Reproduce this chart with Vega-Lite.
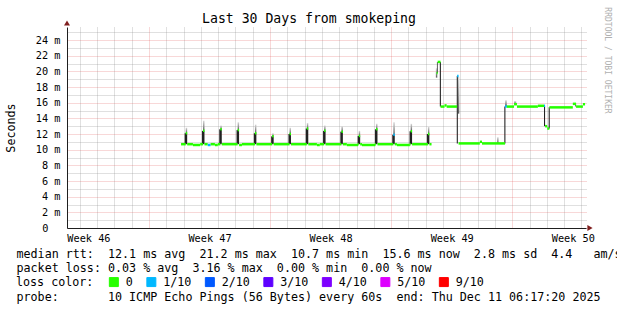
{
  "$schema": "https://vega.github.io/schema/vega-lite/v6.json",
  "autosize": {"type": "none"},
  "padding": {"left": 67, "top": 27, "right": 31, "bottom": 82},
  "width": 519,
  "height": 201,
  "background": "#ffffff",
  "datasets": {
    "median": [
      {"t0":"2025-11-17T20:30","t1":"2025-11-18T03:00","v":10.7,"loss":"0"},
      {"t0":"2025-11-18T03:00","t1":"2025-11-18T05:00","v":12.1,"loss":"0"},
      {"t0":"2025-11-18T05:00","t1":"2025-11-18T13:00","v":10.7,"loss":"0"},
      {"t0":"2025-11-18T13:00","t1":"2025-11-18T23:00","v":10.6,"loss":"0"},
      {"t0":"2025-11-18T23:00","t1":"2025-11-19T03:00","v":10.7,"loss":"0"},
      {"t0":"2025-11-19T03:00","t1":"2025-11-19T05:00","v":12.4,"loss":"0"},
      {"t0":"2025-11-19T05:00","t1":"2025-11-19T09:30","v":10.7,"loss":"0"},
      {"t0":"2025-11-19T09:30","t1":"2025-11-19T13:30","v":10.6,"loss":"1/10"},
      {"t0":"2025-11-19T13:30","t1":"2025-11-19T19:30","v":10.7,"loss":"0"},
      {"t0":"2025-11-19T19:30","t1":"2025-11-19T23:30","v":10.6,"loss":"0"},
      {"t0":"2025-11-19T23:30","t1":"2025-11-20T03:00","v":10.7,"loss":"0"},
      {"t0":"2025-11-20T03:00","t1":"2025-11-20T05:00","v":12.6,"loss":"0"},
      {"t0":"2025-11-20T05:00","t1":"2025-11-21T03:00","v":10.7,"loss":"0"},
      {"t0":"2025-11-21T03:00","t1":"2025-11-21T05:00","v":12.5,"loss":"0"},
      {"t0":"2025-11-21T05:00","t1":"2025-11-21T09:00","v":10.6,"loss":"0"},
      {"t0":"2025-11-21T09:00","t1":"2025-11-22T03:00","v":10.7,"loss":"0"},
      {"t0":"2025-11-22T03:00","t1":"2025-11-22T05:00","v":12.1,"loss":"0"},
      {"t0":"2025-11-22T05:00","t1":"2025-11-23T03:00","v":10.7,"loss":"0"},
      {"t0":"2025-11-23T03:00","t1":"2025-11-23T05:00","v":11.7,"loss":"0"},
      {"t0":"2025-11-23T05:00","t1":"2025-11-24T03:00","v":10.7,"loss":"0"},
      {"t0":"2025-11-24T03:00","t1":"2025-11-24T05:00","v":12.0,"loss":"0"},
      {"t0":"2025-11-24T05:00","t1":"2025-11-25T03:00","v":10.7,"loss":"0"},
      {"t0":"2025-11-25T03:00","t1":"2025-11-25T05:00","v":12.7,"loss":"0"},
      {"t0":"2025-11-25T05:00","t1":"2025-11-25T17:00","v":10.7,"loss":"0"},
      {"t0":"2025-11-25T17:00","t1":"2025-11-25T21:00","v":10.6,"loss":"0"},
      {"t0":"2025-11-25T21:00","t1":"2025-11-26T03:00","v":10.7,"loss":"0"},
      {"t0":"2025-11-26T03:00","t1":"2025-11-26T05:00","v":12.4,"loss":"0"},
      {"t0":"2025-11-26T05:00","t1":"2025-11-27T03:00","v":10.7,"loss":"0"},
      {"t0":"2025-11-27T03:00","t1":"2025-11-27T05:00","v":12.3,"loss":"0"},
      {"t0":"2025-11-27T05:00","t1":"2025-11-27T10:30","v":10.7,"loss":"0"},
      {"t0":"2025-11-27T10:30","t1":"2025-11-28T02:00","v":10.6,"loss":"0"},
      {"t0":"2025-11-28T02:00","t1":"2025-11-28T03:00","v":10.7,"loss":"0"},
      {"t0":"2025-11-28T03:00","t1":"2025-11-28T05:00","v":11.75,"loss":"0"},
      {"t0":"2025-11-28T05:00","t1":"2025-11-28T07:30","v":10.7,"loss":"0"},
      {"t0":"2025-11-28T07:30","t1":"2025-11-29T02:00","v":10.6,"loss":"0"},
      {"t0":"2025-11-29T02:00","t1":"2025-11-29T03:00","v":10.7,"loss":"0"},
      {"t0":"2025-11-29T03:00","t1":"2025-11-29T05:00","v":12.6,"loss":"0"},
      {"t0":"2025-11-29T05:00","t1":"2025-11-30T03:00","v":10.7,"loss":"0"},
      {"t0":"2025-11-30T03:00","t1":"2025-11-30T05:00","v":11.9,"loss":"1/10"},
      {"t0":"2025-11-30T05:00","t1":"2025-11-30T08:00","v":10.7,"loss":"0"},
      {"t0":"2025-11-30T08:00","t1":"2025-12-01T02:00","v":10.6,"loss":"0"},
      {"t0":"2025-12-01T02:00","t1":"2025-12-01T03:00","v":10.7,"loss":"0"},
      {"t0":"2025-12-01T03:00","t1":"2025-12-01T05:00","v":12.35,"loss":"0"},
      {"t0":"2025-12-01T05:00","t1":"2025-12-02T03:00","v":10.7,"loss":"0"},
      {"t0":"2025-12-02T03:00","t1":"2025-12-02T05:00","v":12.0,"loss":"0"},
      {"t0":"2025-12-02T05:00","t1":"2025-12-02T08:00","v":10.7,"loss":"0"},
      {"t0":"2025-12-02T15:00","t1":"2025-12-02T16:30","v":19.8,"loss":"0"},
      {"t0":"2025-12-02T16:30","t1":"2025-12-02T20:30","v":21.2,"loss":"0"},
      {"t0":"2025-12-02T20:30","t1":"2025-12-03T02:00","v":15.5,"loss":"0"},
      {"t0":"2025-12-03T02:00","t1":"2025-12-03T05:00","v":15.65,"loss":"0"},
      {"t0":"2025-12-03T05:00","t1":"2025-12-03T19:30","v":15.5,"loss":"0"},
      {"t0":"2025-12-03T19:30","t1":"2025-12-03T21:30","v":19.4,"loss":"1/10"},
      {"t0":"2025-12-03T21:30","t1":"2025-12-05T03:00","v":10.8,"loss":"0"},
      {"t0":"2025-12-05T03:00","t1":"2025-12-05T06:00","v":11.0,"loss":"0"},
      {"t0":"2025-12-05T06:00","t1":"2025-12-06T14:00","v":10.8,"loss":"0"},
      {"t0":"2025-12-06T14:00","t1":"2025-12-06T16:30","v":15.5,"loss":"1/10"},
      {"t0":"2025-12-06T16:30","t1":"2025-12-07T02:30","v":15.5,"loss":"0"},
      {"t0":"2025-12-07T02:30","t1":"2025-12-07T06:30","v":15.8,"loss":"0"},
      {"t0":"2025-12-07T06:30","t1":"2025-12-08T11:30","v":15.5,"loss":"0"},
      {"t0":"2025-12-08T11:30","t1":"2025-12-08T20:00","v":15.6,"loss":"0"},
      {"t0":"2025-12-08T20:00","t1":"2025-12-08T21:30","v":15.6,"loss":"1/10"},
      {"t0":"2025-12-08T21:30","t1":"2025-12-09T00:30","v":13.0,"loss":"0"},
      {"t0":"2025-12-09T00:30","t1":"2025-12-09T03:30","v":12.7,"loss":"0"},
      {"t0":"2025-12-09T03:30","t1":"2025-12-10T12:00","v":15.4,"loss":"0"},
      {"t0":"2025-12-10T12:00","t1":"2025-12-10T16:30","v":15.85,"loss":"0"},
      {"t0":"2025-12-10T16:30","t1":"2025-12-11T02:00","v":15.5,"loss":"0"},
      {"t0":"2025-12-11T02:00","t1":"2025-12-11T05:00","v":15.8,"loss":"0"}
    ],
    "smokeDark": [
      {"t0":"2025-11-18T01:30","t1":"2025-11-18T05:00","lo":10.7,"hi":12.1},
      {"t0":"2025-11-19T01:30","t1":"2025-11-19T05:00","lo":10.7,"hi":12.4},
      {"t0":"2025-11-20T01:30","t1":"2025-11-20T05:00","lo":10.7,"hi":12.6},
      {"t0":"2025-11-21T01:30","t1":"2025-11-21T05:00","lo":10.7,"hi":12.5},
      {"t0":"2025-11-22T01:30","t1":"2025-11-22T05:00","lo":10.7,"hi":12.1},
      {"t0":"2025-11-23T01:30","t1":"2025-11-23T05:00","lo":10.7,"hi":11.7},
      {"t0":"2025-11-24T01:30","t1":"2025-11-24T05:00","lo":10.7,"hi":12.0},
      {"t0":"2025-11-25T01:30","t1":"2025-11-25T05:00","lo":10.7,"hi":12.7},
      {"t0":"2025-11-26T01:30","t1":"2025-11-26T05:00","lo":10.7,"hi":12.4},
      {"t0":"2025-11-27T01:30","t1":"2025-11-27T05:00","lo":10.7,"hi":12.3},
      {"t0":"2025-11-28T01:30","t1":"2025-11-28T05:00","lo":10.7,"hi":11.75},
      {"t0":"2025-11-29T01:30","t1":"2025-11-29T05:00","lo":10.7,"hi":12.6},
      {"t0":"2025-11-30T01:30","t1":"2025-11-30T05:00","lo":10.7,"hi":11.9},
      {"t0":"2025-12-01T01:30","t1":"2025-12-01T05:00","lo":10.7,"hi":12.35},
      {"t0":"2025-12-02T01:30","t1":"2025-12-02T05:00","lo":10.7,"hi":12.0},
      {"t0":"2025-12-02T15:30","t1":"2025-12-02T16:30","lo":19.8,"hi":21.2},
      {"t0":"2025-12-02T19:30","t1":"2025-12-02T21:00","lo":15.5,"hi":21.2},
      {"t0":"2025-12-03T19:00","t1":"2025-12-03T20:30","lo":10.8,"hi":19.4},
      {"t0":"2025-12-06T13:00","t1":"2025-12-06T14:30","lo":10.8,"hi":15.5},
      {"t0":"2025-12-08T20:00","t1":"2025-12-08T21:30","lo":13.0,"hi":15.6},
      {"t0":"2025-12-09T02:30","t1":"2025-12-09T04:00","lo":12.7,"hi":15.4},
      {"t0":"2025-12-10T15:30","t1":"2025-12-10T16:30","lo":15.5,"hi":15.9}
    ],
    "smokeGray": [
      {"t0":"2025-11-18T03:00","t1":"2025-11-18T05:00","lo":12.1,"hi":12.8},
      {"t0":"2025-11-19T03:00","t1":"2025-11-19T05:00","lo":12.4,"hi":13.7},
      {"t0":"2025-11-20T03:00","t1":"2025-11-20T05:00","lo":12.6,"hi":13.1},
      {"t0":"2025-11-21T03:00","t1":"2025-11-21T05:00","lo":12.5,"hi":13.5},
      {"t0":"2025-11-22T03:00","t1":"2025-11-22T05:00","lo":12.1,"hi":13.2},
      {"t0":"2025-11-23T03:00","t1":"2025-11-23T05:00","lo":11.7,"hi":12.1},
      {"t0":"2025-11-24T03:00","t1":"2025-11-24T05:00","lo":12.0,"hi":12.8},
      {"t0":"2025-11-25T03:00","t1":"2025-11-25T05:00","lo":12.7,"hi":13.4},
      {"t0":"2025-11-26T03:00","t1":"2025-11-26T05:00","lo":12.4,"hi":13.1},
      {"t0":"2025-11-27T03:00","t1":"2025-11-27T05:00","lo":12.3,"hi":13.0},
      {"t0":"2025-11-28T03:00","t1":"2025-11-28T05:00","lo":11.75,"hi":12.4},
      {"t0":"2025-11-29T03:00","t1":"2025-11-29T05:00","lo":12.6,"hi":13.3},
      {"t0":"2025-11-30T03:00","t1":"2025-11-30T05:00","lo":11.9,"hi":13.5},
      {"t0":"2025-12-01T03:00","t1":"2025-12-01T05:00","lo":12.35,"hi":13.3},
      {"t0":"2025-12-02T03:00","t1":"2025-12-02T05:00","lo":12.0,"hi":12.9},
      {"t0":"2025-12-02T14:00","t1":"2025-12-02T16:00","lo":19.2,"hi":20.4},
      {"t0":"2025-12-03T20:30","t1":"2025-12-03T22:30","lo":14.6,"hi":19.3},
      {"t0":"2025-12-06T14:00","t1":"2025-12-06T16:30","lo":15.5,"hi":16.3},
      {"t0":"2025-12-07T02:30","t1":"2025-12-07T05:30","lo":15.8,"hi":16.2},
      {"t0":"2025-12-06T03:00","t1":"2025-12-06T05:00","lo":10.8,"hi":11.6}
    ],
    "arrowTop": [{"t":"2025-11-11T06:17:20","v":25.66}],
    "arrowRight": [{"t":"2025-12-11T06:17:20","v":0}]
  },
  "layer": [
    {
      "data": {"name": "smokeGray"},
      "mark": {"type": "rect", "color": {"gradient": "linear", "x1": 0, "y1": 1, "x2": 0, "y2": 0, "stops": [{"offset": 0, "color": "#5a5a5a"}, {"offset": 1, "color": "#d8d8d8"}]}},
      "encoding": {
        "x": {"field": "t0", "type": "temporal",
          "scale": {"domain": [{"year":2025,"month":11,"date":11,"hours":6,"minutes":17,"seconds":20},{"year":2025,"month":12,"date":11,"hours":6,"minutes":17,"seconds":20}], "nice": false},
          "axis": {"orient": "bottom", "title": null, "labels": false, "ticks": false, "domain": false, "grid": true, "gridColor": "#8f8f8f", "gridOpacity": 0.55, "gridDash": [1, 1], "gridWidth": 1,
            "values": [
              {"year":2025,"month":11,"date":12},{"year":2025,"month":11,"date":13},{"year":2025,"month":11,"date":14},{"year":2025,"month":11,"date":15},
              {"year":2025,"month":11,"date":17},{"year":2025,"month":11,"date":18},{"year":2025,"month":11,"date":19},{"year":2025,"month":11,"date":20},{"year":2025,"month":11,"date":21},{"year":2025,"month":11,"date":22},
              {"year":2025,"month":11,"date":24},{"year":2025,"month":11,"date":25},{"year":2025,"month":11,"date":26},{"year":2025,"month":11,"date":27},{"year":2025,"month":11,"date":28},{"year":2025,"month":11,"date":29},
              {"year":2025,"month":12,"date":1},{"year":2025,"month":12,"date":2},{"year":2025,"month":12,"date":3},{"year":2025,"month":12,"date":4},{"year":2025,"month":12,"date":5},{"year":2025,"month":12,"date":6},
              {"year":2025,"month":12,"date":8},{"year":2025,"month":12,"date":9},{"year":2025,"month":12,"date":10},{"year":2025,"month":12,"date":11}
            ]}},
        "x2": {"field": "t1"},
        "y": {"field": "lo", "type": "quantitative",
          "scale": {"domain": [0, 25.66], "nice": false},
          "axis": {"orient": "left", "title": null, "labels": false, "ticks": false, "domain": false, "grid": true, "gridColor": "#8f8f8f", "gridOpacity": 0.55, "gridDash": [1, 1], "gridWidth": 1,
            "values": [1, 3, 5, 7, 9, 11, 13, 15, 17, 19, 21, 23, 25]}},
        "y2": {"field": "hi"}
      }
    },
    {
      "data": {"name": "smokeDark"},
      "mark": {"type": "rect", "color": "#222222"},
      "encoding": {
        "x": {"field": "t0", "type": "temporal",
          "scale": {"domain": [{"year":2025,"month":11,"date":11,"hours":6,"minutes":17,"seconds":20},{"year":2025,"month":12,"date":11,"hours":6,"minutes":17,"seconds":20}], "nice": false},
          "axis": {"orient": "bottom", "title": null, "labels": false, "ticks": false, "domain": true, "domainColor": "#1f1f1f", "domainWidth": 1, "grid": true, "gridColor": "#de4f4f", "gridOpacity": 0.45, "gridDash": [1, 1], "gridWidth": 1,
            "values": [{"year":2025,"month":11,"date":16},{"year":2025,"month":11,"date":23},{"year":2025,"month":11,"date":30},{"year":2025,"month":12,"date":7}]}},
        "x2": {"field": "t1"},
        "y": {"field": "lo", "type": "quantitative",
          "scale": {"domain": [0, 25.66], "nice": false},
          "axis": {"orient": "left", "title": "Seconds", "titleX": -57, "titleY": 100.5, "titleAngle": 270, "titleAlign": "center", "titleBaseline": "middle", "titleFontSize": 11.7,
            "labels": true, "labelFontSize": 10.24,
            "labelPadding": {"condition": {"test": "datum.value == 0", "value": 19}, "value": 7},
            "labelAlign": "right", "labelBaseline": "middle",
            "labelExpr": "datum.value == 0 ? '0' : datum.value + ' m'",
            "ticks": false, "domain": true, "domainColor": "#1f1f1f", "domainWidth": 1, "grid": true, "gridColor": "#de4f4f", "gridOpacity": 0.45, "gridDash": [1, 1], "gridWidth": 1,
            "values": [0, 2, 4, 6, 8, 10, 12, 14, 16, 18, 20, 22, 24]}},
        "y2": {"field": "hi"}
      }
    },
    {
      "data": {"name": "median"},
      "mark": {"type": "rule", "strokeWidth": 2.5, "strokeCap": "butt"},
      "encoding": {
        "x": {"field": "t0", "type": "temporal",
          "scale": {"domain": [{"year":2025,"month":11,"date":11,"hours":6,"minutes":17,"seconds":20},{"year":2025,"month":12,"date":11,"hours":6,"minutes":17,"seconds":20}], "nice": false},
          "axis": {"orient": "bottom", "grid": false, "ticks": false, "domain": false,
            "labelFontSize": 10.24, "labelPadding": 5, "labelBaseline": "top", "labelAlign": "center", "labelFlush": false, "labelOverlap": false, "labelBound": false,
            "labelExpr": "'Week ' + timeFormat(datum.value, '%V')",
            "values": [{"year":2025,"month":11,"date":12,"hours":12},{"year":2025,"month":11,"date":19,"hours":12},{"year":2025,"month":11,"date":26,"hours":12},{"year":2025,"month":12,"date":3,"hours":12},{"year":2025,"month":12,"date":10,"hours":12}],
            "title": [
              "median rtt:\u00a0 12.1 ms avg\u00a0 21.2 ms max\u00a0 10.7 ms min\u00a0 15.6 ms now\u00a0 2.8 ms sd\u00a0 4.4\u00a0\u00a0 am/s",
              "packet loss: 0.03 % avg\u00a0 3.16 % max\u00a0 0.00 % min\u00a0 0.00 % now"
            ],
            "titleX": -51, "titleY": 29.5, "titleAlign": "left", "titleAnchor": "start", "titleBaseline": "alphabetic", "titleLineHeight": 14.3, "titleFontSize": 11.7, "titleLimit": 2000}},
        "x2": {"field": "t1"},
        "y": {"field": "v", "type": "quantitative",
          "scale": {"domain": [0, 25.66], "nice": false},
          "axis": {"orient": "right", "title": "RRDTOOL / TOBI OETIKER", "titleAngle": 90, "titleX": 20, "titleY": 33, "titleAlign": "center", "titleBaseline": "middle", "titleFontSize": 8.04, "titleColor": "#b0b0b0",
            "labels": false, "ticks": false, "domain": false, "grid": false}},
        "color": {"field": "loss", "type": "nominal",
          "scale": {"domain": ["0", "1/10", "2/10", "3/10", "4/10", "5/10", "9/10"], "range": ["#26ff00", "#00b8ff", "#0059ff", "#5e00ff", "#7e00ff", "#dd00ff", "#ff0000"]},
          "legend": {"orient": "none", "legendX": -51, "legendY": 249, "direction": "horizontal", "title": "loss color:", "titleOrient": "left",
            "titleFontSize": 11.7, "titleFontWeight": "normal", "titleColor": "#000000", "titlePadding": 14, "titleBaseline": "middle",
            "labelFontSize": 11.7, "labelColor": "#000000", "labelOffset": 6, "columnPadding": 11.5, "symbolType": "square", "symbolSize": 81,
            "symbolStrokeColor": "#000000", "symbolStrokeWidth": 1,
            "encode": {"symbols": {"update": {"fill": {"scale": "color", "field": "value"}, "stroke": {"value": "#000000"}, "strokeWidth": {"value": 1}, "opacity": {"value": 1}, "fillOpacity": {"value": 1}}}}}}
      }
    },
    {
      "data": {"name": "arrowTop"},
      "mark": {"type": "point", "shape": "triangle-up", "filled": true, "color": "#801f1f", "opacity": 1, "size": 36, "yOffset": -4},
      "encoding": {
        "x": {"field": "t", "type": "temporal",
          "scale": {"domain": [{"year":2025,"month":11,"date":11,"hours":6,"minutes":17,"seconds":20},{"year":2025,"month":12,"date":11,"hours":6,"minutes":17,"seconds":20}], "nice": false},
          "axis": {"orient": "top", "labels": false, "ticks": false, "domain": false, "grid": false,
            "title": "Last 30 Days from smokeping", "titleX": 241.5, "titleY": -4.5, "titleAlign": "center", "titleBaseline": "alphabetic", "titleFontSize": 13.16}},
        "y": {"field": "v", "type": "quantitative", "scale": {"domain": [0, 25.66], "nice": false}, "axis": null}
      }
    },
    {
      "data": {"name": "arrowRight"},
      "mark": {"type": "point", "shape": "triangle-right", "filled": true, "color": "#801f1f", "opacity": 1, "size": 36, "xOffset": 4},
      "encoding": {
        "x": {"field": "t", "type": "temporal",
          "scale": {"domain": [{"year":2025,"month":11,"date":11,"hours":6,"minutes":17,"seconds":20},{"year":2025,"month":12,"date":11,"hours":6,"minutes":17,"seconds":20}], "nice": false},
          "axis": {"orient": "bottom", "labels": false, "ticks": false, "domain": false, "grid": false,
            "title": "probe:\u00a0\u00a0\u00a0\u00a0\u00a0\u00a0 10 ICMP Echo Pings (56 Bytes) every 60s\u00a0 end: Thu Dec 11 06:17:20 2025",
            "titleX": -51, "titleY": 72.5, "titleAlign": "left", "titleAnchor": "start", "titleBaseline": "alphabetic", "titleFontSize": 11.7, "titleLimit": 2000}},
        "y": {"field": "v", "type": "quantitative", "scale": {"domain": [0, 25.66], "nice": false}, "axis": null}
      }
    }
  ],
  "resolve": {"axis": {"x": "independent", "y": "independent"}},
  "config": {
    "view": {"stroke": null},
    "font": "DejaVu Sans Mono",
    "axis": {"labelFont": "DejaVu Sans Mono", "titleFont": "DejaVu Sans Mono", "labelColor": "#000000", "titleColor": "#000000", "titleFontWeight": "normal"},
    "legend": {"labelFont": "DejaVu Sans Mono", "titleFont": "DejaVu Sans Mono"}
  }
}
